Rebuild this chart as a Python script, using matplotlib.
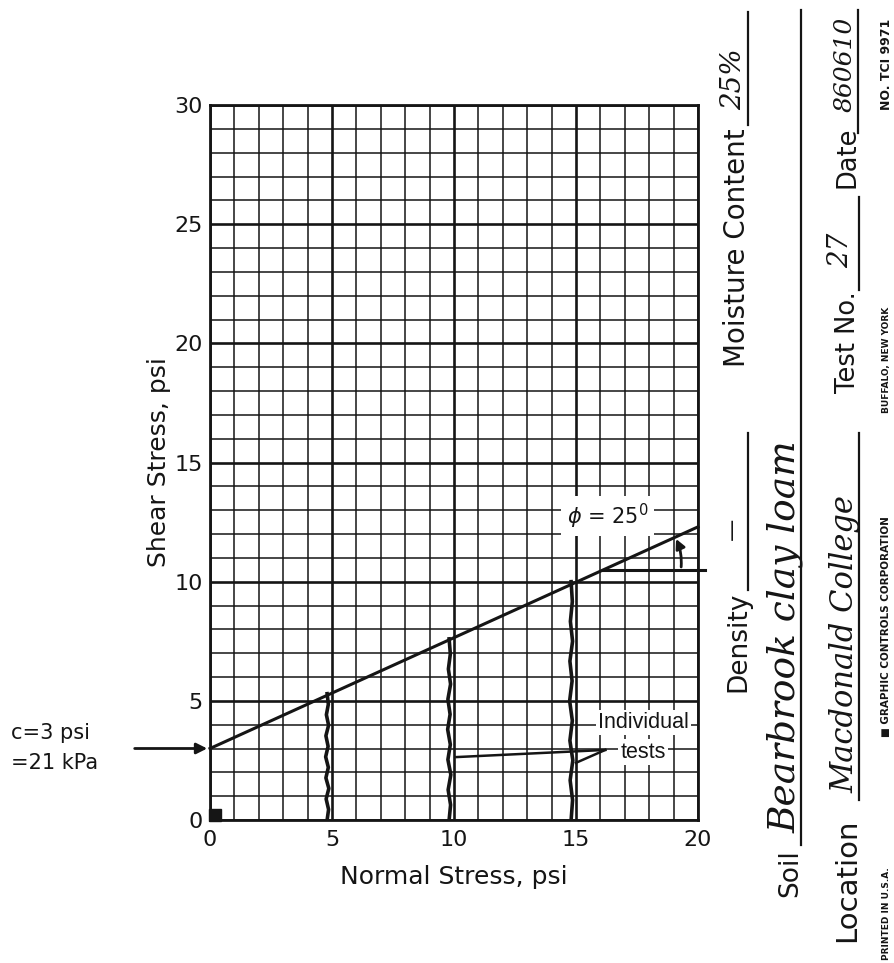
import numpy as np
import matplotlib
matplotlib.use('Agg')
import matplotlib.pyplot as plt
from matplotlib.lines import Line2D

# failure envelope (normal stress vs shear stress, psi)
envelope_sigma = [0, 20]
envelope_tau = [3.0, 12.3]

# individual shear box tests (wavy vertical lines up to the envelope)
test_sigma = [4.8, 9.8, 14.8]
test_tau = [5.3, 7.6, 10.0]
wiggle_dx = [0.0, 0.06, -0.04, 0.07, -0.05, 0.05, -0.06, 0.04, -0.05, 0.06, -0.03, 0.05, 0.0]

x_ticks = [0, 5, 10, 15, 20]
y_ticks = [0, 5, 10, 15, 20, 25, 30]

# form fields printed around the chart
form_labels = ['Moisture Content', 'Density', 'Soil', 'Location', 'Test No.', 'Date']
form_values = ['25%', '\u2014', 'Bearbrook clay loam', 'Macdonald College', '27', '860610']
footer = ['PRINTED IN U.S.A.', '\u25A0 GRAPHIC CONTROLS CORPORATION', 'BUFFALO, NEW YORK', 'NO. TCI 9971']

W, H = 895, 963
ink = '#151515'

def px(x):
    return x / W

def py(y):
    return 1 - y / H

fig = plt.figure(figsize=(W / 100, H / 100), dpi=100)
ax = fig.add_axes([px(210), py(820), px(698) - px(210), py(105) - py(820)])

ax.set_xlim(0, 20)
ax.set_ylim(0, 30)
ax.set_xticks(x_ticks)
ax.set_yticks(y_ticks)
ax.set_xticks(np.arange(0, 21, 1), minor=True)
ax.set_yticks(np.arange(0, 31, 1), minor=True)
ax.grid(which='minor', color=ink, lw=1.1)
ax.grid(which='major', color=ink, lw=1.9)
ax.tick_params(which='both', length=0, labelsize=16, colors=ink)
ax.tick_params(axis='x', pad=7)
ax.tick_params(axis='y', pad=5)
for sp in ax.spines.values():
    sp.set_linewidth(2)
    sp.set_color(ink)
ax.set_axisbelow(True)

ax.set_xlabel('Normal Stress, psi', fontsize=18, color=ink, labelpad=11)
ax.set_ylabel('Shear Stress, psi', fontsize=18, color=ink, labelpad=3)

# envelope
ax.plot(envelope_sigma, envelope_tau, color=ink, lw=2.2, clip_on=False, zorder=5)

# wavy test lines
for s, t in zip(test_sigma, test_tau):
    yy = np.linspace(0, t, len(wiggle_dx))
    ax.plot(s + np.array(wiggle_dx), yy, color=ink, lw=2.6, zorder=5)

# origin marker
ax.plot(0.2, 0.2, 's', color=ink, ms=8, clip_on=False, zorder=6)

# phi angle construction
ax.plot([16.1, 20.3], [10.5, 10.5], color=ink, lw=2.2, clip_on=False, zorder=5)
ax.annotate('', xy=(19.05, 11.9), xytext=(19.3, 10.5),
            arrowprops=dict(arrowstyle='-|>', color=ink, lw=2, mutation_scale=14,
                            connectionstyle='arc3,rad=0.15'), zorder=6)
ax.text(16.3, 12.75, r'$\phi$ = 25$^0$', fontsize=15, color=ink, ha='center', va='center',
        bbox=dict(facecolor='white', edgecolor='none', pad=4), zorder=7)

# individual tests label
ax.text(17.75, 4.1, 'Individual', fontsize=15.5, family='Liberation Sans', color=ink,
        ha='center', va='center', bbox=dict(facecolor='white', edgecolor='none', pad=1.5), zorder=7)
ax.text(17.75, 2.85, 'tests', fontsize=15.5, family='Liberation Sans', color=ink,
        ha='center', va='center', bbox=dict(facecolor='white', edgecolor='none', pad=1.5), zorder=7)
ax.plot([16.2, 10.1], [2.94, 2.64], color=ink, lw=1.8, zorder=6)
ax.plot([16.2, 15.0], [2.94, 2.4], color=ink, lw=1.8, zorder=6)

# cohesion arrow
ax.annotate('', xy=(0, 3), xytext=(-3.2, 3), annotation_clip=False,
            arrowprops=dict(arrowstyle='-|>', color=ink, lw=2, mutation_scale=16))
fig.text(px(11), py(733), 'c=3 psi', fontsize=15, color=ink, va='center')
fig.text(px(11), py(763), '=21 kPa', fontsize=15, color=ink, va='center')

# form text, rotated 90 degrees; (baseline x, start y) in pixels
def form_text(x, y, s, size, **kw):
    fig.text(px(x), py(y), s, fontsize=size, rotation=90, rotation_mode='anchor',
             ha='left', va='baseline', color=ink, **kw)

def rule(x, y0, y1, lw=1.6):
    fig.add_artist(Line2D([px(x), px(x)], [py(y0), py(y1)], color=ink, lw=lw))

hand = dict(style='italic', family='DejaVu Serif')

form_text(745, 367, form_labels[0], 20)
rule(748, 125, 12)
form_text(741, 110, form_values[0], 20, **hand)

form_text(745, 692, form_labels[1], 19)
rule(748, 590, 433)
form_text(738, 540, form_values[1], 16)

form_text(797, 897, form_labels[2], 19)
rule(801, 845, 10)
form_text(795, 833, form_values[2], 27, **hand)

form_text(855, 942, form_labels[3], 21)
rule(859, 800, 433)
form_text(853, 793, form_values[3], 22, **hand)

form_text(855, 393, form_labels[4], 18.5)
rule(859, 290, 197)
form_text(848, 268, form_values[4], 20, **hand)

form_text(855, 188, form_labels[5], 18.5)
rule(858, 133, 10)
form_text(852, 112, form_values[5], 18, **hand)

form_text(889, 960, footer[0], 6.5, weight='bold')
form_text(889, 737, footer[1], 7.5, weight='bold')
form_text(889, 413, footer[2], 6.5, weight='bold')
form_text(890, 110, footer[3], 9, weight='bold')

fig.savefig('out.png', dpi=100, facecolor='white')
